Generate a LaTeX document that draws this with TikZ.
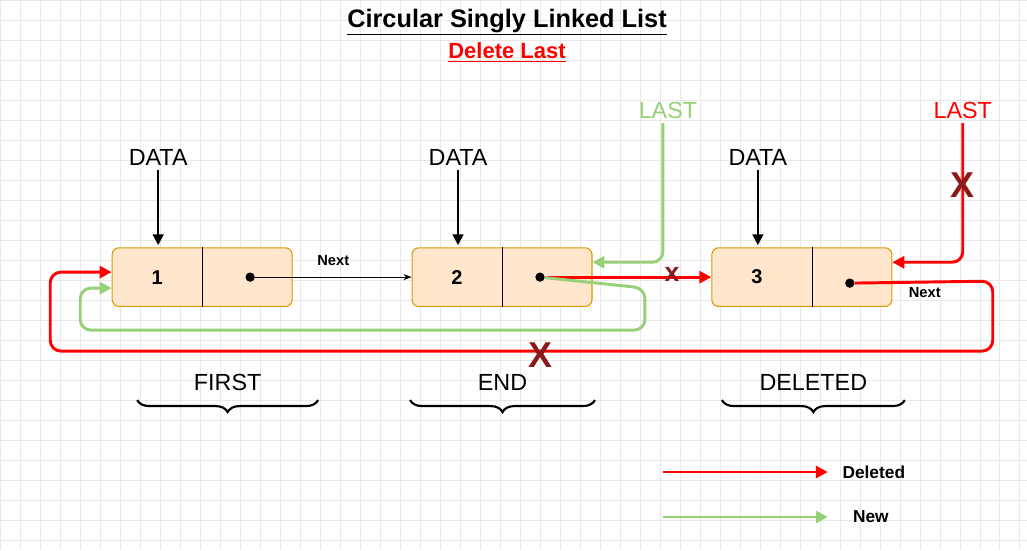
\documentclass[tikz,border=0pt]{standalone}
\usepackage{fontspec}
\setmainfont{Liberation Sans}
\usetikzlibrary{positioning,arrows.meta,decorations.pathreplacing}
\definecolor{cellfill}{HTML}{FFE6CC}
\definecolor{celldraw}{HTML}{D79B00}
\definecolor{newgreen}{HTML}{97D077}
\definecolor{xred}{HTML}{8B1A1A}
\begin{document}
\begin{tikzpicture}[%
		x=0.75pt,y=-0.75pt,
		>={Triangle[length=9pt,width=9pt]},
		cell/.style={%
			minimum width=135pt,
			minimum height=44pt,
			draw=celldraw,
			fill=cellfill,
			line width=0.8pt,
			rounded corners=5pt,
			inner sep=0pt
		},
		lbl/.style={font=\fontsize{17.5}{17.5}\selectfont},
		small/.style={font=\bfseries\fontsize{11}{11}\selectfont},
		legend/.style={font=\bfseries\fontsize{13}{13}\selectfont},
		bigx/.style={text=xred,font=\bfseries\fontsize{27}{27}\selectfont,inner sep=0pt},
		dot/.style={circle,fill=black,inner sep=0pt,minimum size=7pt},
		del/.style={red,line width=2.2pt,rounded corners=8pt},
		new/.style={newgreen,line width=2.2pt,rounded corners=8pt},
		brace/.style={decorate,decoration={brace,mirror,amplitude=9pt},line width=1.6pt}
		]
		% background grid
		\fill[white] (0,0) rectangle (1027,550);
		\draw[black!9,step=15pt] (0,0) grid (1027,550);
		\useasboundingbox (0,0) rectangle (1027,550);

		% titles
		\node (title) at (507,22) {\bfseries\fontsize{19}{19}\selectfont\underline{Circular Singly Linked List}};
		\node[text=red] (sub) at (507,52) {\bfseries\fontsize{16.5}{16.5}\selectfont\underline{Delete Last}};

		% cells
		\foreach \n/\x/\d/\v in {1/202/202/1,2/502/502/2,3/802/812/3}{
			\node[cell] (c\n) at (\x,277) {};
			\draw (\d,0 |- c\n.north) -- (\d,0 |- c\n.south);
			\node[font=\bfseries\fontsize{15}{15}\selectfont] (v\n) at (\x-45,277) {\v};
		}
		\node[dot] (d1) at (250,277) {};
		\node[dot] (d2) at (540,277) {};
		\node[dot] (d3) at (850,283) {};

		% data pointers
		\foreach \n/\x in {1/158,2/458,3/758}{
			\node[lbl] (data\n) at (\x,157) {DATA};
			\draw[->,line width=1.5pt,>={Triangle[length=8pt,width=8pt]}] (data\n) -- (\x,245);
		}

		% next links
		\draw[->,>={Stealth[length=6pt]}] (d1) -- (c2.west) node[small,midway,above=5pt] (next1) {Next};
		\draw[del,->] (d2) -- (c3.west);
		\node[text=xred,font=\bfseries\fontsize{20}{20}\selectfont,inner sep=0pt] (x1) at (672,274) {x};

		% LAST pointers
		\node[lbl,text=newgreen] (lastnew) at (668,110) {LAST};
		\node[lbl,text=red] (lastold) at (963,110) {LAST};
		\draw[new,->] (lastnew.south -| 663,0) |- ([yshift=-11.25pt]c2.north east);
		\draw[del,->] (lastold) |- ([yshift=-11.25pt]c3.north east);
		\node[bigx] (x2) at (963,185) {X};

		% wrap-around links
		\coordinate (r1) at (993,281);
		\coordinate (r2) at (50,351);
		\draw[del,->] (d3) -- (r1) |- (r2) |- ([yshift=3.75pt]c1.west);
		\node[small] (next3) at (925,292) {Next};
		\node[bigx] (x3) at (541,355) {X};
		\coordinate (g1) at (645,288);
		\coordinate (g2) at (80,330);
		\draw[new,->] (d2) -- (g1) |- (g2) |- ([yshift=-8.25pt]c1.west);

		% braces
		\foreach \n/\t/\a/\b in {1/FIRST/137/318,2/END/410/595,3/DELETED/722/905}{
			\node[lbl] (t\n) at ({(\a+\b)/2},382) {\t};
			\draw[brace] (\a,400) -- (\b,400);
		}

		% legend
		\node[legend] (ld) at (874,472) {Deleted};
		\node[legend] (ln) at (871,517) {New};
		\draw[del,->] (663,472) -- (828,472);
		\draw[new,->] (663,517) -- (828,517);
\end{tikzpicture}
\end{document}
